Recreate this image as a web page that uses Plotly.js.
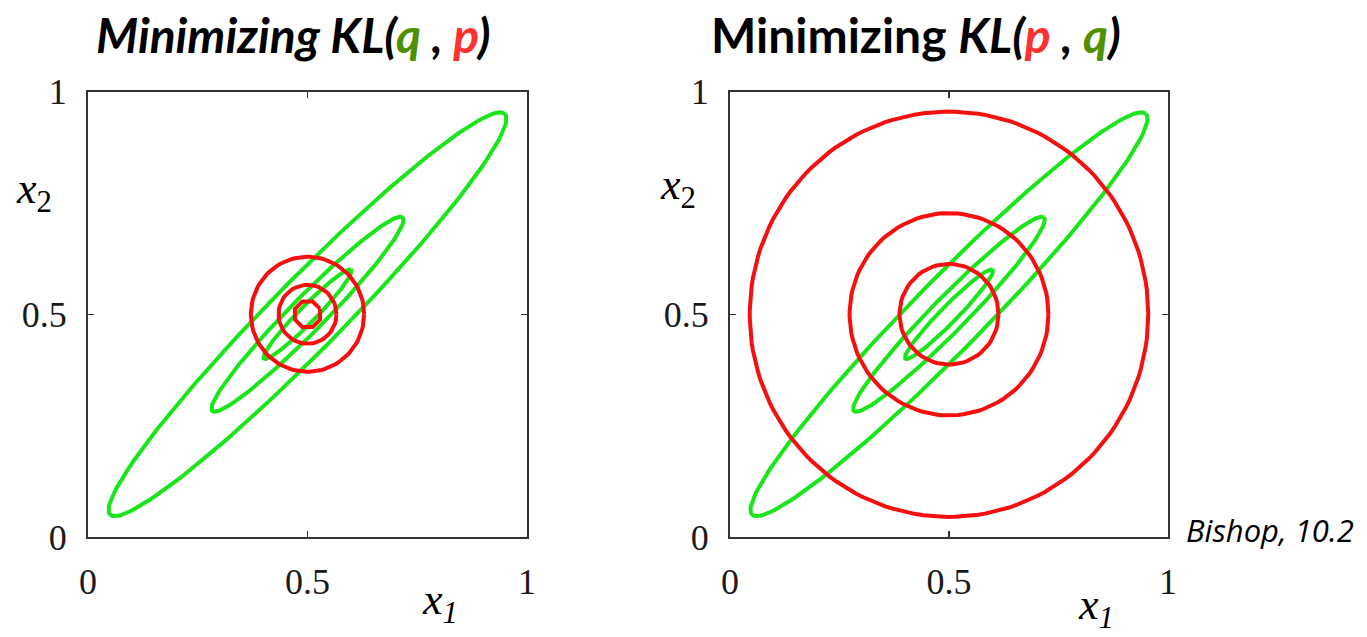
<!DOCTYPE html>
<html>
<head>
<meta charset="utf-8">
<script src="https://cdn.plot.ly/plotly-3.0.1.min.js"></script>
<style>html,body{margin:0;padding:0;background:#fff;}#chart{width:1367px;height:637px;}</style>
</head>
<body>
<div id="chart"></div>
<script>
// ---- data ----
const center = [0.5, 0.5];
const greenSemiMajor = [0.636, 0.307, 0.141];   // along the 45° diagonal
const greenSemiMinor = [0.080, 0.039, 0.019];
const redRadiiLeft  = [0.129, 0.066, 0.031];
const redRadiiRight = [0.455, 0.227, 0.113];
const redPointsLeft = [120, 60, 9];             // contour resolution (inner is octagonal)
const redPointsRight = [160, 120, 80];
const tickVals = [0, 0.5, 1];
const tickText = ['0', '0.5', '1'];

const GREEN = '#19e619';
const RED = '#f50f0f';

function ellipse(a, b, n) {
  const xs = [], ys = [], c = Math.SQRT1_2;
  for (let i = 0; i <= n; i++) {
    const t = 2 * Math.PI * i / n;
    const u = a * Math.cos(t), v = b * Math.sin(t);
    xs.push(center[0] + c * (u - v));
    ys.push(center[1] + c * (u + v));
  }
  return [xs, ys];
}
function circle(r, n, offset) {
  const xs = [], ys = [];
  for (let i = 0; i <= n; i++) {
    const t = offset + 2 * Math.PI * i / n;
    xs.push(center[0] + r * Math.cos(t));
    ys.push(center[1] + r * Math.sin(t));
  }
  return [xs, ys];
}

const traces = [];
['x', 'x2'].forEach((xa, k) => {
  const ya = k === 0 ? 'y' : 'y2';
  greenSemiMajor.forEach((a, i) => {
    const [xs, ys] = ellipse(a, greenSemiMinor[i], 200);
    traces.push({x: xs, y: ys, xaxis: xa, yaxis: ya, mode: 'lines', type: 'scatter',
      line: {color: GREEN, width: 4}, hoverinfo: 'skip', showlegend: false});
  });
  const radii = k === 0 ? redRadiiLeft : redRadiiRight;
  const pts = k === 0 ? redPointsLeft : redPointsRight;
  radii.forEach((r, i) => {
    const n = pts[i] - 1;
    const [xs, ys] = circle(r, n, n < 20 ? Math.PI / n : 0);
    traces.push({x: xs, y: ys, xaxis: xa, yaxis: ya, mode: 'lines', type: 'scatter',
      line: {color: RED, width: 4}, hoverinfo: 'skip', showlegend: false});
  });
});

const tickFont = {family: 'Liberation Serif, Times New Roman, serif', size: 36, color: '#1a1a1a'};
function axis(domain, anchor) {
  return {
    domain: domain, anchor: anchor, range: [0, 1], fixedrange: true,
    tickvals: tickVals, ticktext: tickText, tickfont: tickFont,
    ticks: 'inside', ticklen: 6, tickwidth: 1.5, tickcolor: '#333',
    showline: true, linecolor: '#333', linewidth: 2, mirror: 'ticks',
    showgrid: false, zeroline: false, ticklabelstandoff: 12
  };
}

const titleFont = {family: 'Lato, Open Sans, sans-serif', size: 48, color: '#000'};
const axLabelFont = {family: 'Liberation Serif, Times New Roman, serif', size: 44, color: '#000'};

const layout = {
  width: 1367, height: 637,
  margin: {l: 0, r: 0, t: 0, b: 0},
  paper_bgcolor: '#fff', plot_bgcolor: '#fff',
  showlegend: false,
  xaxis: axis([88 / 1367, 527 / 1367], 'y'),
  yaxis: axis([1 - 537 / 637, 1 - 91.5 / 637], 'x'),
  xaxis2: axis([730 / 1367, 1168 / 1367], 'y2'),
  yaxis2: axis([1 - 537 / 637, 1 - 91.5 / 637], 'x2'),
  annotations: [
    {xref: 'paper', yref: 'paper', x: 293 / 1367, y: 1 - 34 / 637, showarrow: false,
     xanchor: 'center', yanchor: 'middle', font: titleFont,
     text: '<b><i>Minimizing KL(<span style="color:#4e9000">q</span> , <span style="color:#ff3030">p</span>)</i></b>'},
    {xref: 'paper', yref: 'paper', x: 916 / 1367, y: 1 - 34 / 637, showarrow: false,
     xanchor: 'center', yanchor: 'middle', font: titleFont,
     text: '<b>Minimizing <i>KL(<span style="color:#ff3030">p</span> , <span style="color:#4e9000">q</span>)</i></b>'},
    {xref: 'paper', yref: 'paper', x: 34 / 1367, y: 1 - 192 / 637, showarrow: false,
     xanchor: 'center', yanchor: 'middle', font: axLabelFont, text: '<i>x</i><sub>2</sub>'},
    {xref: 'paper', yref: 'paper', x: 678 / 1367, y: 1 - 188 / 637, showarrow: false,
     xanchor: 'center', yanchor: 'middle', font: axLabelFont, text: '<i>x</i><sub>2</sub>'},
    {xref: 'paper', yref: 'paper', x: 440 / 1367, y: 1 - 602 / 637, showarrow: false,
     xanchor: 'center', yanchor: 'middle', font: axLabelFont, text: '<i>x</i><sub><i>1</i></sub>'},
    {xref: 'paper', yref: 'paper', x: 1096 / 1367, y: 1 - 607 / 637, showarrow: false,
     xanchor: 'center', yanchor: 'middle', font: axLabelFont, text: '<i>x</i><sub><i>1</i></sub>'},
    {xref: 'paper', yref: 'paper', x: 1270 / 1367, y: 1 - 530 / 637, showarrow: false,
     xanchor: 'center', yanchor: 'middle',
     font: {family: 'Open Sans, Lato, sans-serif', size: 31, color: '#000'},
     text: '<i>Bishop, 10.2</i>'}
  ]
};

Plotly.newPlot('chart', traces, layout, {displayModeBar: false, staticPlot: true});
</script>
</body>
</html>
